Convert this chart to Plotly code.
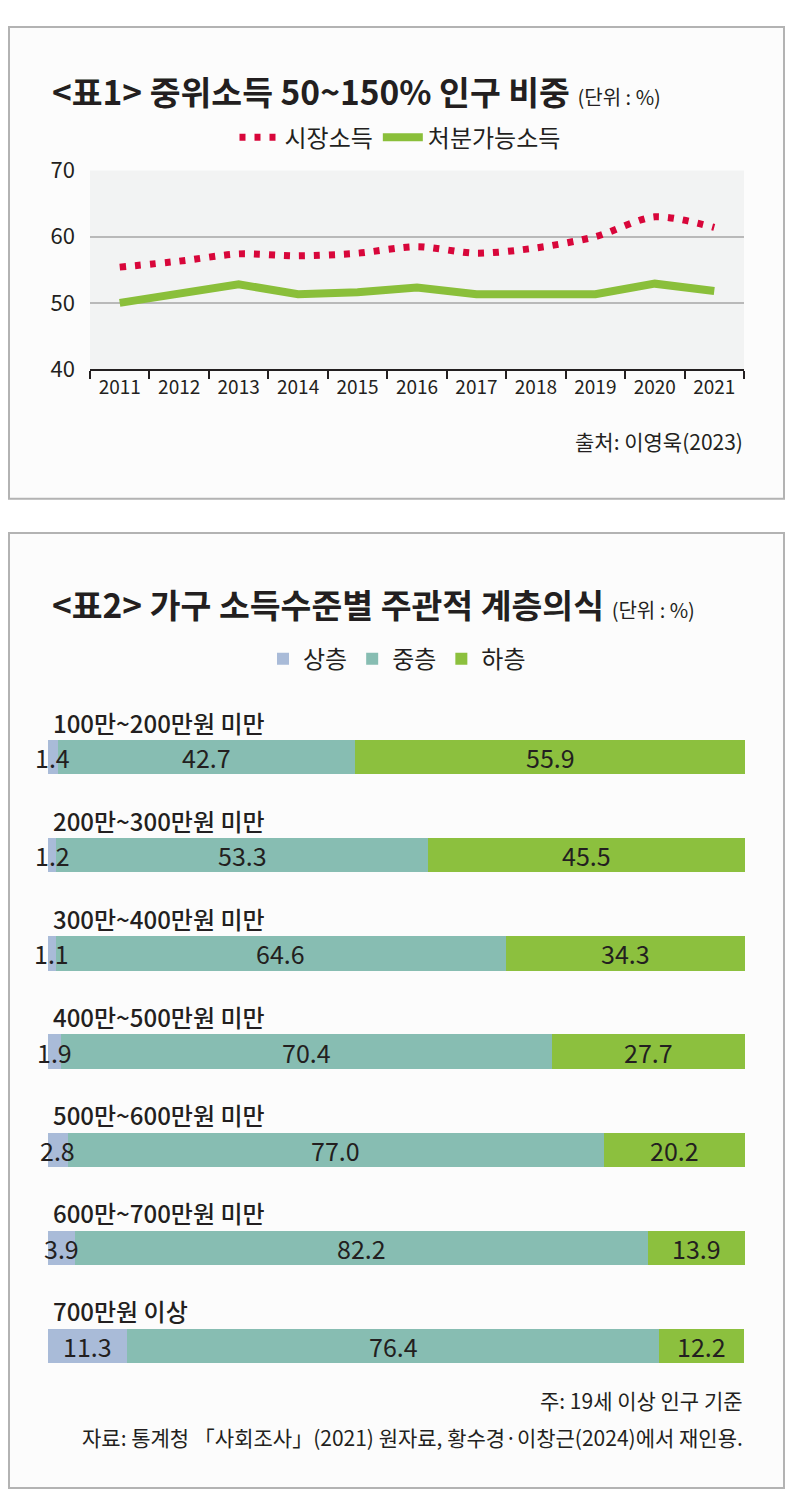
import plotly.graph_objects as go

# the page body keeps an 8px margin, so the figure is drawn 16px smaller
# and every position below is given in page pixels
PAGE_W, PAGE_H = 793, 1511
PAD = 8
W, H = PAGE_W - 2 * PAD, PAGE_H - 2 * PAD
FONT = "Noto Sans CJK KR"
INK = "#231f20"

# 표1 data
years = ["2011", "2012", "2013", "2014", "2015", "2016", "2017", "2018", "2019", "2020", "2021"]
market_income = [55.4, 56.3, 57.4, 57.1, 57.5, 58.5, 57.5, 58.3, 60.0, 63.0, 61.4]
disposable_income = [50.0, 51.4, 52.8, 51.3, 51.6, 52.3, 51.3, 51.3, 51.3, 52.9, 51.8]
y_ticks = [40, 50, 60, 70]

# 표2 data
income_groups = ["100만~200만원 미만", "200만~300만원 미만", "300만~400만원 미만",
                 "400만~500만원 미만", "500만~600만원 미만", "600만~700만원 미만",
                 "700만원 이상"]
upper = [1.4, 1.2, 1.1, 1.9, 2.8, 3.9, 11.3]
middle = [42.7, 53.3, 64.6, 70.4, 77.0, 82.2, 76.4]
lower = [55.9, 45.5, 34.3, 27.7, 20.2, 13.9, 12.2]
layers = [("상층", upper, "#a9bbd8"), ("중층", middle, "#87bdb2"), ("하층", lower, "#8cc03e")]


def px(x):
    return (x - PAD) / W


def py(y):
    return 1 - (y - PAD) / H


fig = go.Figure()

# line chart
fig.add_trace(go.Scatter(
    x=years, y=market_income, mode="lines", name="시장소득",
    line=dict(color="#d8063a", width=7, dash="6px,9px", shape="spline", smoothing=0.8),
    xaxis="x", yaxis="y", legend="legend"
))
fig.add_trace(go.Scatter(
    x=years, y=disposable_income, mode="lines", name="처분가능소득",
    line=dict(color="#8abf3a", width=8),
    xaxis="x", yaxis="y", legend="legend"
))

# stacked bars
for name, vals, color in layers:
    fig.add_trace(go.Bar(
        y=income_groups, x=vals, orientation="h", name=name,
        marker=dict(color=color, line_width=0),
        hoverinfo="skip", xaxis="x2", yaxis="y2", legend="legend2"
    ))

unit = "<span style='font-size:20px;font-weight:normal'>(단위 : %)</span>"
annotations = [
    dict(text="&lt;표1&gt; 중위소득 50~150% 인구 비중 " + unit,
         x=px(50), y=py(74), font=dict(size=33.5, weight="bold")),
    dict(text="&lt;표2&gt; 가구 소득수준별 주관적 계층의식 " + unit,
         x=px(50), y=py(598), font=dict(size=33.5, weight="bold")),
    dict(text="출처: 이영욱(2023)", x=px(745), y=py(432), xanchor="right",
         font=dict(size=21)),
    dict(text="주: 19세 이상 인구 기준", x=px(745), y=py(1412), xanchor="right",
         font=dict(size=21)),
    dict(text="자료: 통계청 「사회조사」(2021) 원자료, 황수경·이창근(2024)에서 재인용.",
         x=px(745), y=py(1450), xanchor="right", font=dict(size=21)),
]
for a in annotations:
    a.update(xref="paper", yref="paper", showarrow=False, yanchor="middle")
    a.setdefault("xanchor", "left")
    a["font"].update(family=FONT, color=INK)

# group names above the bars and values centred in each segment
for i, g in enumerate(income_groups):
    annotations.append(dict(
        text=g, x=0, y=g, xref="x2", yref="y2", xanchor="left", yanchor="middle",
        xshift=3, yshift=35, showarrow=False,
        font=dict(family=FONT, size=24, color=INK, weight=500)
    ))
    start = 0
    for name, vals, color in layers:
        annotations.append(dict(
            text=f"{vals[i]:.1f}", x=start + vals[i] / 2, y=g, xref="x2", yref="y2",
            xanchor="center", yanchor="middle", showarrow=False,
            font=dict(family=FONT, size=25, color=INK)
        ))
        start += vals[i]

# panel frames (kept just inside the drawable area of the page)
shapes = [
    dict(type="rect", xref="paper", yref="paper", x0=px(9), x1=px(784),
         y0=py(491), y1=py(9), line=dict(color="#b3b3b3", width=2),
         fillcolor="#fcfcfc", layer="below"),
    dict(type="rect", xref="paper", yref="paper", x0=px(9), x1=px(784),
         y0=py(1502), y1=py(526), line=dict(color="#b3b3b3", width=2),
         fillcolor="#fcfcfc", layer="below"),
    dict(type="rect", xref="x domain", yref="y domain", x0=0, x1=1, y0=0, y1=1,
         fillcolor="#f2f3f3", line_width=0, layer="below"),
]

fig.update_layout(
    width=W, height=H, autosize=False,
    margin=dict(l=0, r=0, t=0, b=0),
    paper_bgcolor="white", plot_bgcolor="rgba(0,0,0,0)",
    font=dict(family=FONT, color=INK),
    barmode="stack", bargap=0.65,
    showlegend=True,
    annotations=annotations, shapes=shapes,
    xaxis=dict(domain=[px(90), px(744)], anchor="y", type="category",
               range=[-0.5, len(years) - 0.5], tickson="boundaries",
               ticks="outside", ticklen=8, tickwidth=1.5, tickcolor=INK,
               showline=True, linecolor=INK, linewidth=2, showgrid=False,
               tickfont=dict(size=19, color=INK)),
    yaxis=dict(domain=[py(358.5), py(155.7)], anchor="x", range=[40, 70],
               tickvals=y_ticks, showgrid=True, gridcolor="#b9b9b9", gridwidth=1.5,
               zeroline=False, showline=False, ticks="", ticklabelstandoff=14,
               tickfont=dict(size=22, color=INK)),
    xaxis2=dict(domain=[px(48), px(745)], anchor="y2", range=[0, 100],
                visible=False),
    yaxis2=dict(domain=[py(1407), py(705)], anchor="x2", type="category",
                categoryorder="array", categoryarray=income_groups,
                range=[len(income_groups) - 0.5, -0.5], visible=False),
    legend=dict(orientation="h", x=px(400), xanchor="center", y=py(122),
                yanchor="middle", font=dict(size=24, color=INK),
                bgcolor="rgba(0,0,0,0)", itemwidth=40),
    legend2=dict(orientation="h", x=px(397), xanchor="center", y=py(655),
                 yanchor="middle", font=dict(size=24, color=INK),
                 bgcolor="rgba(0,0,0,0)", itemwidth=30, traceorder="normal"),
)

fig.write_html("out.html")
